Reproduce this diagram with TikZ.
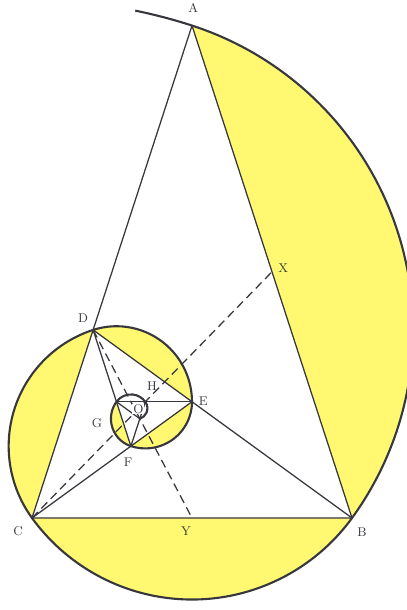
\documentclass[tikz,border=0pt]{standalone}
\usepackage{xcolor}
\usepackage{tikz}
\usetikzlibrary{calc}
\definecolor{spiralyellow}{RGB}{255, 248, 112}
\definecolor{inkgray}{RGB}{55, 55, 62}

\begin{document}
\begin{tikzpicture}[every node/.style={font=\small, text=inkgray},
    side/.style={inkgray, line width=0.9pt},
    axis/.style={inkgray, line width=0.9pt, dash pattern=on 6pt off 3.5pt},
    spiral/.style={inkgray, line width=1.5pt}]
    \useasboundingbox (-0.8,-2.3) rectangle (9.35,12.95);
    % Golden triangles (BC = 8)
    \def\a{8}
    \coordinate (A) at (4,12.3107);
    \coordinate (B) at (8,0);
    \coordinate (C) at (0,0);
    \coordinate (D) at (1.52786,4.70228);
    \coordinate (E) at (4,2.90617);
    \coordinate (F) at (2.47214,1.79611);
    \coordinate (G) at (2.11146,2.90617);
    \coordinate (H) at (2.83282,2.90617);
    \coordinate (I) at (2.69505,2.48216);
    \coordinate (J) at (2.47213,2.64413);
    \coordinate (O) at (2.59849,2.66580);
    \coordinate (X) at ($(A)!0.5!(B)$);
    \coordinate (Y) at ($(B)!0.5!(C)$);
    
    % Yellow segments
    \foreach \p [count=\i from 0] in {A,B,C,D,E,F} {
        \fill[spiralyellow] (\p) arc[start angle={72-108*\i}, end angle={-36-108*\i}, radius={\a*0.618034^\i}] -- cycle;
    }
    
    % Sides
    \draw[side] (A) -- (B) -- (C);
    \foreach \p/\q in {A/C, B/D, C/E, D/F, E/G, F/H, G/I} {
        \draw[side] (\p) -- (\q);
    }
    
    % Dashed lines through O
    \draw[axis] (C) -- (X);
    \draw[axis] (D) -- (Y);
    
    % Spiral
    \draw[spiral] (A) arc[start angle=72, end angle=78.5, radius=12.944];
    \draw[spiral] (A) \foreach \i in {0,...,7} {
        arc[start angle={72-108*\i}, end angle={-36-108*\i}, radius={\a*0.618034^\i}]
    };
    
    % Labels
    \node[fill=white, inner sep=0.6pt] (lO) at ($(O)+(0.06,0.06)$) {O};
    \foreach \p/\dx/\dy in {A/0.03/0.44, B/0.25/-0.35, C/-0.35/-0.33, D/-0.25/0.30, E/0.28/0.02, F/-0.07/-0.40, G/-0.49/-0.53, H/0.17/0.39, X/0.28/0.10, Y/-0.15/-0.33} {
        \node (l\p) at ($(\p)+(\dx,\dy)$) {\p};
    }
\end{tikzpicture}
\end{document}
